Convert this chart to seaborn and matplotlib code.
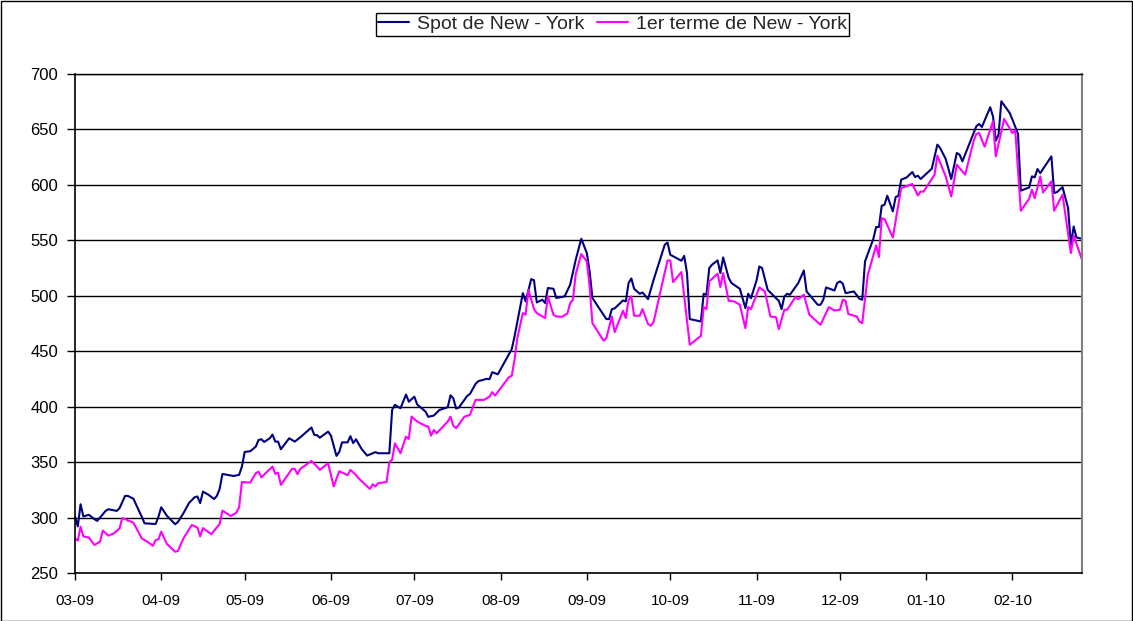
import numpy as np
import pandas as pd
import matplotlib
matplotlib.use("Agg")
import matplotlib.pyplot as plt
import matplotlib.dates as mdates
from matplotlib.patches import Rectangle
import seaborn as sns

# ---------------- data ----------------
date_debut = "2009-03-01"   # day 0 of the series
date_fin_jour = 362         # last day of the axis (days since date_debut)

serie_spot = "Spot de New - York"
serie_terme = "1er terme de New - York"

# days since 2009-03-01
spot_jour = [0, 1, 2, 3, 5, 7, 8, 11, 12, 15, 16, 18, 19, 21, 23, 24, 25, 29, 30, 31, 33, 36, 37, 39, 41, 43, 44, 45, 46, 48,
             50, 51, 52, 53, 57, 59, 60, 61, 63, 65, 66, 67, 68, 70, 71, 72, 73, 74, 77, 79, 81, 85, 86, 87, 88, 91, 92, 94, 95, 96,
             98, 99, 100, 101, 103, 105, 108, 109, 113, 114, 115, 117, 119, 120, 122, 123, 126, 127, 129, 131, 134, 135, 136, 137, 138,
             141, 142, 144, 145, 148, 149, 150, 152, 155, 157, 158, 161, 162, 164, 165, 166, 168, 169, 170, 172, 173, 176, 178, 180,
             182, 184, 185, 186, 191, 192, 193, 194, 197, 198, 199, 200, 201, 203, 204, 206, 208, 212, 213, 214, 218, 219, 220, 221,
             225, 226, 227, 228, 229, 231, 232, 233, 235, 236, 239, 241, 242, 243, 245, 246, 247, 249, 252, 253, 254, 255, 256, 257,
             260, 262, 263, 267, 268, 269, 270, 273, 274, 275, 276, 277, 280, 282, 283, 284, 287, 288, 289, 290, 291, 292, 294, 295,
             296, 297, 299, 301, 302, 303, 304, 308, 310, 311, 313, 315, 317, 318, 319, 324, 325, 326, 329, 330, 331, 332, 333, 336,
             337, 339, 340, 343, 344, 345, 346, 347, 351, 352, 353, 355, 357, 358, 359, 360, 362]
spot_valeurs = [301, 292, 312, 301, 302.5, 298.5, 297, 306, 307.5, 306, 308.4, 319.5, 319.5, 317, 306, 300.8, 294.8, 294.2, 300.8, 309.3,
                301.7, 294, 296, 304, 313.2, 318.3, 319, 313, 323.4, 320.5, 316.7, 319.5, 325.8, 339.3, 337.5, 338.5, 346, 359.2, 359.8,
                364, 370, 370.6, 368.2, 371.5, 374.8, 368.5, 368.5, 361.6, 371.5, 368.5, 372.4, 381.2, 374.6, 374.3, 372, 377.5, 373.9,
                355.6, 359.2, 367.8, 367.8, 373.4, 367.2, 370.6, 362, 355.9, 359, 358, 358, 397.1, 401.6, 398.6, 410.9, 404.5, 409, 402,
                395.6, 390.8, 392, 397, 399.5, 410.3, 407.5, 398.3, 399.2, 409.7, 411.5, 420.6, 423, 425.1, 424.8, 431.1, 429.2, 442.8,
                451.9, 463.3, 502.4, 494.9, 515, 514, 494, 496.4, 493.5, 507, 506.3, 498, 499.4, 510, 532.5, 551.4, 538.5, 521.9, 498,
                479, 479, 488, 488.6, 495.8, 494.9, 511.5, 515.6, 506.3, 501.8, 503, 497, 514.4, 546, 548, 537, 531.6, 536, 520.5, 479,
                476.8, 501.8, 500.9, 525, 528, 531.9, 520.5, 534.6, 516, 511.5, 506.3, 488.9, 501.8, 497.8, 513.8, 526.4, 525, 505.4,
                497.8, 495.5, 488, 499.4, 501.8, 500.9, 511.5, 522.8, 503.9, 491.9, 491.9, 496.4, 507.5, 504.8, 511.5, 513, 510.9, 502.4,
                503.9, 497.3, 496.4, 531, 551.4, 562, 562, 581.2, 582.1, 590.2, 576.1, 589, 590.2, 604.7, 606.8, 611.6, 607.1, 608.3,
                605.3, 614.6, 636.3, 633.3, 623.4, 605.3, 628.8, 627.3, 621.2, 652.8, 655, 652.2, 670, 661.8, 639.9, 645.3, 675.4, 664.9,
                658.8, 646, 594.8, 597.7, 607.7, 606.8, 614.3, 610.6, 625.7, 592.7, 593.5, 598, 579.1, 546, 562.5, 552.6, 551.4]

terme_jour = [0, 1, 2, 3, 5, 7, 9, 10, 12, 14, 16, 17, 21, 23, 24, 26, 28, 29, 30, 31, 33, 36, 37, 39, 42, 44, 45, 46, 49, 52, 53,
              56, 58, 59, 60, 63, 65, 66, 67, 71, 72, 73, 74, 78, 79, 80, 81, 85, 87, 88, 91, 93, 95, 98, 99, 101, 102, 106, 107, 108,
              109, 112, 113, 114, 115, 117, 119, 120, 121, 123, 126, 127, 128, 129, 130, 134, 135, 136, 137, 140, 142, 144, 147, 149,
              150, 151, 156, 157, 158, 159, 161, 162, 163, 165, 166, 169, 170, 172, 173, 175, 177, 178, 179, 180, 182, 184, 185, 186,
              190, 191, 193, 194, 197, 198, 199, 200, 201, 203, 204, 206, 207, 208, 210, 213, 214, 215, 218, 221, 225, 226, 227, 228,
              231, 232, 233, 235, 237, 239, 241, 242, 243, 246, 248, 250, 252, 253, 255, 256, 259, 260, 262, 264, 268, 271, 273, 275,
              276, 277, 278, 281, 282, 283, 285, 288, 289, 290, 291, 294, 297, 301, 303, 304, 305, 309, 310, 313, 315, 317, 320, 323,
              324, 325, 327, 330, 331, 334, 337, 338, 340, 343, 344, 345, 347, 348, 351, 352, 355, 358, 359, 362]
terme_valeurs = [281.3, 279.2, 291.8, 283, 282, 275.3, 278.3, 288.2, 283.7, 285.7, 290.2, 299.6, 295.4, 285.8, 281.2, 278.2, 274.6,
                 279.8, 280.4, 287.3, 276.3, 269.2, 269.8, 281.3, 293.3, 291, 283, 290.5, 285, 294.2, 306.2, 301.4, 304.4, 309.2,
                 332.1, 331.5, 340, 341.4, 336.3, 346, 339.4, 340.5, 329.4, 343.9, 343.9, 339.2, 343.9, 351, 346, 343, 349, 328,
                 341.8, 338.2, 343, 338.4, 335.3, 325.8, 330, 328, 331, 332, 350, 352, 367, 358, 373, 370.9, 391.1, 386.6, 382.7,
                 382, 373.9, 379, 376, 386.6, 391, 382.7, 380.6, 391, 392.6, 406.1, 406.1, 409, 413.1, 410, 426.6, 427.8, 442.2,
                 461.8, 484.4, 483, 505.4, 488, 484.4, 479.9, 499.4, 482.9, 481.4, 481, 484, 493.4, 496.4, 519.6, 537.6, 531, 508.4,
                 475.3, 459.6, 461.7, 481.3, 467.2, 486.5, 480, 496.4, 499.4, 482, 482, 488, 474.5, 473, 476.3, 498.8, 531.9, 531.9,
                 512.4, 521.4, 455.8, 463.9, 489.8, 488, 513, 519.9, 507.8, 520.5, 495.5, 494.9, 491.9, 470.8, 489.8, 488, 507.5,
                 503.9, 481.3, 480.7, 469.9, 487.4, 487.4, 498.8, 497, 500.9, 482.9, 473.8, 489.8, 486.7, 487.4, 496.4, 495.5,
                 483.5, 481.4, 476.8, 475.3, 519, 545.4, 534.9, 570, 569.2, 552.6, 597.2, 600.8, 590.5, 594.1, 593.8, 609.2, 626.4,
                 607.7, 589.6, 618.2, 609.2, 639.3, 646, 646.8, 634.5, 657.3, 625.7, 659.5, 646.8, 649.3, 576.7, 587.5, 595.7, 588,
                 607.7, 593.2, 603.2, 576.7, 591.2, 538.5, 554.2, 532.5]

y_ticks = [250, 300, 350, 400, 450, 500, 550, 600, 650, 700]

# ---------------- frames ----------------
base = pd.Timestamp(date_debut)
df_spot = pd.DataFrame({"date": base + pd.to_timedelta(spot_jour, unit="D"), "valeur": spot_valeurs})
df_terme = pd.DataFrame({"date": base + pd.to_timedelta(terme_jour, unit="D"), "valeur": terme_valeurs})

# ---------------- style ----------------
sns.set_style("white")
plt.rcParams["font.family"] = ["Liberation Sans", "DejaVu Sans"]

W, H = 1133, 621
fig = plt.figure(figsize=(W / 100, H / 100), dpi=100)
left, right, top, bottom = 75, 1082, 74, 573
ax = fig.add_axes([left / W, 1 - bottom / H, (right - left) / W, (bottom - top) / H])

sns.lineplot(data=df_spot, x="date", y="valeur", ax=ax, color="#000080", lw=1.5, label=serie_spot)
sns.lineplot(data=df_terme, x="date", y="valeur", ax=ax, color="#FF00FF", lw=1.5, label=serie_terme)

ax.set_xlim(base, base + pd.Timedelta(days=date_fin_jour))
ax.set_ylim(y_ticks[0], y_ticks[-1])
ax.set_yticks(y_ticks)
ax.xaxis.set_major_locator(mdates.MonthLocator())
ax.xaxis.set_major_formatter(mdates.DateFormatter("%m-%y"))
ax.set_xlabel("")
ax.set_ylabel("")

ax.yaxis.grid(True, color="black", lw=1)
ax.xaxis.grid(False)
ax.set_axisbelow(True)

for s in ["left", "bottom"]:
    ax.spines[s].set_color("black")
    ax.spines[s].set_linewidth(1.2)
ax.spines["top"].set_color("black")
ax.spines["top"].set_linewidth(1)
ax.spines["right"].set_color("#808080")
ax.spines["right"].set_linewidth(1.5)

ax.tick_params(axis="y", left=True, direction="out", length=6, width=1, pad=6, labelsize=12, colors="black")
ax.tick_params(axis="x", bottom=True, direction="out", length=5, width=1, pad=10, labelsize=11, colors="black")

handles, labels = ax.get_legend_handles_labels()
ax.get_legend().remove()
leg = fig.legend(handles, labels, loc="center", bbox_to_anchor=(612.7 / W, 1 - 24.5 / H), ncol=2,
                 frameon=True, fancybox=False, edgecolor="black", fontsize=14, handlelength=1.6,
                 handletextpad=0.4, columnspacing=0.65, borderpad=0.12, framealpha=1)
leg.get_frame().set_linewidth(1)

fig.patches.append(Rectangle((0.5 / W, 0.5 / H), 1 - 1.5 / W, 1 - 1.5 / H, transform=fig.transFigure,
                             fill=False, edgecolor="black", lw=1))

fig.savefig("out.png", dpi=100)
